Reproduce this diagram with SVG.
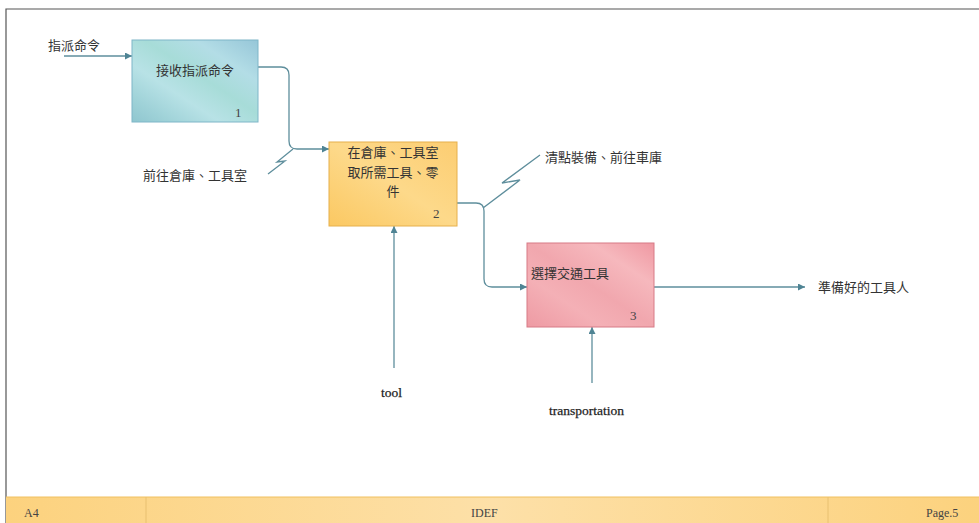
<svg xmlns="http://www.w3.org/2000/svg" width="979" height="523" viewBox="0 0 979 523">
<defs>
<style>
.cjk{font-family:"Noto Sans CJK TC","Noto Sans CJK SC",sans-serif;font-size:13px;fill:#333;}
.num{font-family:"Liberation Serif",serif;font-size:13px;fill:#444;}
.lbl{font-family:"Liberation Serif",serif;font-size:13.5px;fill:#222;stroke:#222;stroke-width:0.25;}
.foot{font-family:"Liberation Serif",serif;font-size:12px;fill:#444;}
.conn{fill:none;stroke:#5e8e9c;stroke-width:1.3;}
</style>
<marker id="arr" viewBox="0 0 10 10" refX="10" refY="5" markerWidth="7" markerHeight="7" orient="auto" markerUnits="userSpaceOnUse">
<path d="M0,0 L10,5 L0,10 Z" fill="#4f8494"/>
</marker>
<linearGradient id="g1" x1="0" y1="1" x2="1" y2="0">
<stop offset="0" stop-color="#8fc6cf"/>
<stop offset="0.15" stop-color="#9fd2d8"/>
<stop offset="0.35" stop-color="#b8e2e6"/>
<stop offset="0.55" stop-color="#a7dcd8"/>
<stop offset="0.75" stop-color="#b3dde6"/>
<stop offset="1" stop-color="#96c6d8"/>
</linearGradient>
<linearGradient id="g2" x1="0" y1="1" x2="1" y2="0">
<stop offset="0" stop-color="#fbc862"/>
<stop offset="0.5" stop-color="#fdd98a"/>
<stop offset="1" stop-color="#fccd72"/>
</linearGradient>
<linearGradient id="g3" x1="0" y1="1" x2="1" y2="0">
<stop offset="0" stop-color="#ee9aa3"/>
<stop offset="0.3" stop-color="#f4b0b6"/>
<stop offset="0.5" stop-color="#f1a7ae"/>
<stop offset="0.75" stop-color="#f6b8bd"/>
<stop offset="1" stop-color="#ef98a2"/>
</linearGradient>
<linearGradient id="gf" x1="0" y1="0" x2="1" y2="0">
<stop offset="0" stop-color="#fcd27e"/>
<stop offset="0.5" stop-color="#fde0a8"/>
<stop offset="1" stop-color="#fcd27e"/>
</linearGradient>
</defs>
<rect x="0" y="0" width="979" height="523" fill="#ffffff"/>
<path d="M6,523 L6,9 L979,9" fill="none" stroke="#555" stroke-width="1.2"/>

<g id="footer">
<rect x="6" y="497" width="973" height="26" fill="url(#gf)"/>
<line x1="6" y1="497" x2="979" y2="497" stroke="#f0c060" stroke-width="1"/>
<line x1="146" y1="497" x2="146" y2="523" stroke="#e8c070" stroke-width="1"/>
<line x1="828" y1="497" x2="828" y2="523" stroke="#e8c070" stroke-width="1"/>
<text class="foot" x="24" y="517">A4</text>
<text class="foot" x="471" y="517">IDEF</text>
<text class="foot" x="926" y="517">Page.5</text>
</g>

<g id="connectors">
<path class="conn" d="M64,56 L132,56" marker-end="url(#arr)"/>
<path class="conn" d="M258,67 L281,67 Q289,67 289,75 L289,141 Q289,149 297,149 L329,149" marker-end="url(#arr)"/>
<path class="conn" d="M268,174 L285,161 L277,162 L293,149"/>
<path class="conn" d="M457,203 L476,203 Q484,203 484,211 L484,279 Q484,287 492,287 L527,287" marker-end="url(#arr)"/>
<path class="conn" d="M483,208 L520,180 L502,183 L540,155"/>
<path class="conn" d="M654,287 L805,287" marker-end="url(#arr)"/>
<path class="conn" d="M394,368 L394,226" marker-end="url(#arr)"/>
<path class="conn" d="M592,383 L592,327" marker-end="url(#arr)"/>
</g>

<g id="label-in1"><text class="cjk" x="48" y="50">指派命令</text></g>
<g id="label-ctrl2"><text class="cjk" x="143" y="180">前往倉庫、工具室</text></g>
<g id="label-out2"><text class="cjk" x="545" y="162">清點裝備、前往車庫</text></g>
<g id="label-out3"><text class="cjk" x="818" y="292">準備好的工具人</text></g>
<g id="label-tool"><text class="lbl" x="381" y="397">tool</text></g>
<g id="label-transport"><text class="lbl" x="549" y="415">transportation</text></g>

<g id="node1">
<rect x="132" y="40" width="126" height="82" fill="url(#g1)" stroke="#7fb6c8" stroke-width="1"/>
<text class="cjk" x="195" y="75" text-anchor="middle">接收指派命令</text>
<text class="num" x="235" y="117">1</text>
</g>

<g id="node2">
<rect x="329" y="142" width="128" height="84" fill="url(#g2)" stroke="#e6b04c" stroke-width="1"/>
<text class="cjk" x="393" y="157" text-anchor="middle">在倉庫、工具室</text>
<text class="cjk" x="393" y="177" text-anchor="middle">取所需工具、零</text>
<text class="cjk" x="393" y="196" text-anchor="middle">件</text>
<text class="num" x="433" y="218">2</text>
</g>

<g id="node3">
<rect x="527" y="243" width="127" height="84" fill="url(#g3)" stroke="#d77a86" stroke-width="1"/>
<text class="cjk" x="531" y="278">選擇交通工具</text>
<text class="num" x="630" y="320">3</text>
</g>
</svg>
